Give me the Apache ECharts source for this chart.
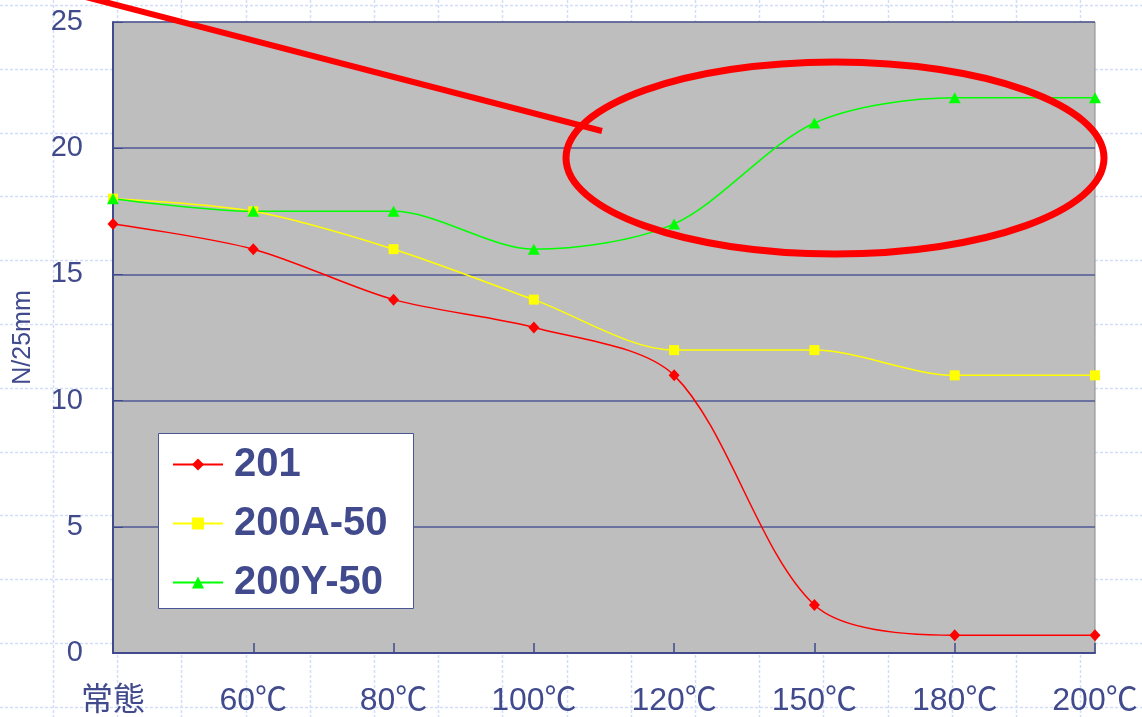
<!DOCTYPE html>
<html>
<head>
<meta charset="utf-8">
<script src="https://cdn.jsdelivr.net/npm/echarts@6/dist/echarts.min.js"></script>
<style>
html,body{margin:0;padding:0;background:#fff;}
#c{width:1142px;height:717px;}
</style>
</head>
<body>
<div id="c"></div>
<script>
const categories = ['常態', '60℃', '80℃', '100℃', '120℃', '150℃', '180℃', '200℃'];
const s201 = [17, 16, 14, 12.9, 11, 1.9, 0.7, 0.7];
const s200A = [18, 17.5, 16, 14, 12, 12, 11, 11];
const s200Y = [18, 17.5, 17.5, 16, 17, 21, 22, 22];
const seriesNames = ['201', '200A-50', '200Y-50'];
const yTicks = [0, 5, 10, 15, 20, 25];

const navy = '#404a8c';
const font = "'Liberation Sans', 'Noto Sans CJK JP', sans-serif";

const graphics = [];
// decorative dotted background grid of the slide
for (let k = 0; k < 12; k++) {
  const y = Math.round(5 + k * 63.8) + 0.5;
  graphics.push({type: 'line', z: -10, silent: true,
    shape: {x1: 0, y1: y, x2: 1142, y2: y},
    style: {stroke: '#d2ddf7', lineWidth: 1.5, lineDash: [3, 2]}});
}
for (let k = 0; k < 18; k++) {
  const x = Math.round(53 + k * 64.2) + 0.5;
  graphics.push({type: 'line', z: -10, silent: true,
    shape: {x1: x, y1: 0, x2: x, y2: 717},
    style: {stroke: '#d2ddf7', lineWidth: 1.5, lineDash: [3, 2]}});
}
// legend box
graphics.push({type: 'rect', z: 3, silent: true,
  shape: {x: 158.5, y: 433.5, width: 255, height: 175},
  style: {fill: '#ffffff', stroke: '#4a5596', lineWidth: 1}});
// red annotation
graphics.push({type: 'line', z: 100, silent: true,
  shape: {x1: 78, y1: -5, x2: 602, y2: 131},
  style: {stroke: '#ff0000', lineWidth: 6}});
graphics.push({type: 'ellipse', z: 100, silent: true,
  shape: {cx: 835, cy: 158, rx: 269, ry: 96},
  style: {fill: 'none', stroke: '#ff0000', lineWidth: 7}});

const chart = echarts.init(document.getElementById('c'));
chart.setOption({
  animation: false,
  backgroundColor: 'transparent',
  graphic: graphics,
  grid: {left: 113, right: 47, top: 22, bottom: 64, show: true,
    backgroundColor: '#bebebe', borderColor: '#8c8c8c', borderWidth: 1},
  legend: {
    orient: 'vertical', left: 158, top: 431, z: 5,
    padding: [13, 10, 3, 14],
    itemWidth: 50, itemHeight: 15, itemGap: 18,
    textStyle: {fontSize: 40, fontWeight: 'bold', color: navy, fontFamily: font,
      lineHeight: 41, padding: [0, 0, 0, 6]},
    data: seriesNames
  },
  xAxis: {
    type: 'category', data: categories, boundaryGap: false,
    axisLine: {lineStyle: {color: navy, width: 2}},
    axisTick: {inside: true, length: 10, lineStyle: {color: navy, width: 1.5}},
    axisLabel: {fontSize: 32, color: navy, fontFamily: font, margin: 32}
  },
  yAxis: {
    type: 'value', min: yTicks[0], max: yTicks[yTicks.length - 1], interval: 5,
    name: 'N/25mm', nameLocation: 'middle', nameGap: 77, nameRotate: 90,
    nameTextStyle: {fontSize: 25, color: navy, fontFamily: font},
    axisLine: {show: true, lineStyle: {color: navy, width: 2}},
    axisTick: {show: true, inside: true, length: 10, lineStyle: {color: navy}},
    splitLine: {lineStyle: {color: '#4f5996', width: 1.5}},
    axisLabel: {fontSize: 29, color: navy, fontFamily: font, margin: 30}
  },
  series: [
    {name: seriesNames[0], type: 'line', data: s201, smooth: 0.3,
      symbol: 'diamond', symbolSize: [11, 12],
      lineStyle: {color: '#ff0000', width: 1.5}, itemStyle: {color: '#ff0000'}},
    {name: seriesNames[1], type: 'line', data: s200A, smooth: 0.3,
      symbol: 'rect', symbolSize: 10,
      lineStyle: {color: '#ffff00', width: 1.5}, itemStyle: {color: '#ffff00'}},
    {name: seriesNames[2], type: 'line', data: s200Y, smooth: 0.3,
      symbol: 'triangle', symbolSize: [12, 11],
      lineStyle: {color: '#00ff00', width: 1.5}, itemStyle: {color: '#00ff00'}}
  ]
});
</script>
</body>
</html>
